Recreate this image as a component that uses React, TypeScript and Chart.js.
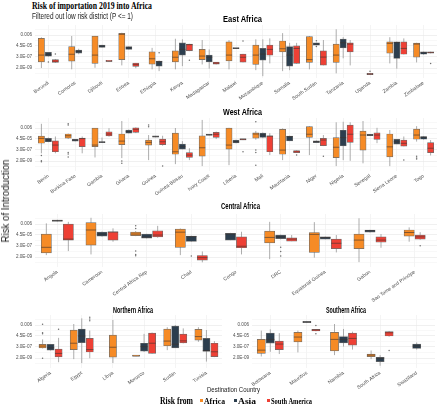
import React, { useEffect, useLayoutEffect, useRef } from "react";
import { Chart, registerables } from "chart.js";
Chart.register(...registerables);

// [min, q1, median, q3, max, outliers?]
type Box = [number, number, number, number, number, number[]?] | null;

const AFRICA_COLOR = "#F68B26";
const ASIA_COLOR = "#2C3E4E";
const SA_COLOR = "#EE4035";
const SANS = "'Liberation Sans', Arial, sans-serif";
const SERIF = "'Liberation Serif', 'Times New Roman', serif";

const tickValues = [6e-3, 4.5e-5, 3e-7, 2e-9];
const tickLabels = ["0.006", "4.5E-05", "3.0E-07", "2.0E-09"];
const minorTickValues = [6.9e-2, 5.2e-4, 3.7e-6, 2.45e-8, 1.6e-10];
const Y_MIN = 2.2e-11;
const Y_MAX = 0.55;

// ---------------- East Africa ----------------
const eastCountries = ["Burundi", "Comoros", "Djibouti", "Eritrea", "Ethiopia", "Kenya", "Madagascar", "Malawi", "Mozambique", "Somalia", "South Sudan", "Tanzania", "Uganda", "Zambia", "Zimbabwe"];
const eastAfrica: Box[] = [
  [2e-9, 3.3e-8, 6.9e-7, 1.3e-3, 2.1e-3],
  [1.1e-9, 4.5e-8, 1e-6, 3.2e-5, 3.8e-3],
  [2.2e-9, 1.6e-8, 6.9e-7, 3.6e-3, 3.9e-3],
  [6.5e-9, 9e-8, 8e-3, 1.3e-2, 1.7e-2],
  [1.1e-9, 1.1e-8, 1.3e-7, 3e-6, 1.8e-5],
  [1.1e-9, 3.3e-8, 2.6e-7, 4.6e-6, 1.1e-3],
  [1e-8, 9e-8, 4.4e-7, 9e-6, 6.2e-4],
  [1.1e-9, 5e-8, 6.9e-7, 2.7e-4, 6e-4],
  [7.6e-10, 1e-8, 6.9e-7, 6.4e-5, 8.5e-4],
  [4.9e-10, 3e-6, 1.2e-5, 4e-4, 1.4e-2],
  [1.1e-9, 2.5e-8, 9e-8, 2.8e-3, 3.8e-3],
  [1.8e-10, 2.5e-8, 6.9e-7, 1e-4, 8e-2],
  null,
  [1.6e-8, 1.6e-6, 1.4e-4, 2.7e-4, 2.2e-3],
  [2.5e-8, 2.6e-7, 1e-4, 1.5e-4, 1.8e-4],
];
const eastAsia: Box[] = [
  [3.5e-7, 4.4e-7, 8e-7, 2.3e-6, 2.5e-6, [2.9e-8]],
  [1e-6, 1.6e-6, 3.8e-6, 6.6e-6, 1.2e-5],
  [2e-5, 2.3e-5, 4.1e-5, 6.4e-5, 7e-5],
  [8e-6, 9e-6, 1.8e-5, 3.2e-5, 3.5e-5],
  [4.9e-10, 4.7e-9, 3.5e-8, 4.5e-8, 6e-8, [2e-6]],
  [4.7e-9, 6.9e-7, 9e-6, 1.8e-4, 8.5e-4],
  [1.5e-9, 3.3e-8, 2.6e-7, 6.9e-7, 9e-6],
  [1.1e-5, 1.2e-5, 1.4e-5, 1.6e-5, 1.7e-5],
  [5e-11, 7e-8, 1.1e-6, 1.4e-5, 8.5e-4],
  [7.6e-10, 4.7e-9, 6.9e-7, 3.2e-5, 1.7e-4],
  [5.5e-5, 6.4e-5, 1e-4, 1.7e-4, 1.9e-4, [4.5e-4, 3.2e-5]],
  [1.6e-7, 1.8e-5, 1.8e-4, 9.8e-4, 2.2e-3],
  null,
  [1.5e-9, 1.6e-7, 2e-4, 2.7e-4, 3e-4],
  [8e-7, 1e-6, 2e-6, 3e-6, 3.5e-6],
];
const eastSouthAmerica: Box[] = [
  [2e-8, 2.5e-8, 4.5e-8, 9e-8, 1.2e-7, [1.1e-6]],
  null,
  [3.6e-8, 3.8e-8, 4.2e-8, 4.6e-8, 4.8e-8],
  [1.8e-9, 4e-9, 9e-9, 1.8e-8, 2e-8],
  null,
  [4e-6, 5e-6, 7.5e-5, 1e-4, 1.1e-4, [7e-8]],
  [1e-8, 1.2e-8, 1.8e-8, 2.9e-8, 3e-8],
  [2.5e-8, 2.9e-8, 2.6e-7, 1.1e-6, 1.2e-6, [4e-4]],
  [1.6e-8, 6.9e-7, 9e-6, 6.4e-5, 1.3e-3],
  [1.4e-8, 1.6e-8, 1.4e-5, 4.6e-5, 1.7e-4],
  [6.5e-9, 7.4e-9, 2.8e-7, 4.6e-6, 6.2e-4],
  [6.5e-9, 3e-6, 1e-4, 1.8e-4, 6.2e-4],
  [9e-11, 1e-10, 1.3e-10, 1.8e-10, 2e-10, [4.9e-10]],
  [9e-7, 1e-6, 1.4e-5, 2.7e-4, 1.3e-3],
  [1.5e-6, 1.6e-6, 2.2e-6, 3e-6, 3.2e-6, [1.6e-8]],
];

// ---------------- West Africa ----------------
const westCountries = ["Benin", "Burkina Faso", "Gambia", "Ghana", "Guinea", "Guinea-Bissau", "Ivory Coast", "Liberia", "Mali", "Mauritania", "Niger", "Nigeria", "Senegal", "Sierra Leone", "Togo"];
const westAfrica: Box[] = [
  [6.5e-8, 6e-6, 5.5e-5, 1.6e-4, 4e-2, [2.5e-8, 2.2e-9, 1.5e-9]],
  [4e-5, 6.4e-5, 1.8e-4, 4e-4, 5e-4, [4e-2, 2.3e-2, 9e-8, 4.5e-8, 1.2e-8]],
  [1e-8, 1.3e-6, 2.7e-6, 5.5e-3, 6e-3],
  [7.4e-9, 3.3e-6, 1.6e-5, 4e-4, 1.4e-1, [2e-9, 7.6e-10]],
  [3e-9, 2.7e-6, 9e-6, 2.6e-5, 2.5e-4, [2.3e-2, 1.1e-2]],
  [4.9e-10, 4.2e-8, 1.3e-7, 6e-4, 6e-3],
  [2e-10, 1.8e-8, 8e-7, 1.8e-4, 2.3e-1],
  [3.1e-10, 4.4e-7, 2.7e-6, 5.7e-3, 6.5e-3],
  [3e-5, 6e-5, 4e-4, 6.8e-4, 1.6e-3, [1e-1, 2.8e-7, 9e-8, 3.1e-10]],
  [3e-9, 4.2e-8, 2.8e-7, 3.4e-3, 5e-3],
  [2.9e-8, 9e-5, 3.6e-4, 1.1e-2, 1.4e-2],
  [2e-10, 9e-9, 1e-6, 8e-5, 8e-2],
  [7e-10, 2.8e-7, 2.5e-4, 1.5e-3, 1.4e-1],
  [2e-10, 1.3e-8, 1.2e-6, 4e-4, 2.4e-3],
  [1.3e-5, 3.7e-5, 2.5e-4, 3.8e-3, 1.4e-2, [1.8e-8, 7.4e-9, 5e-9]],
];
const westAsia: Box[] = [
  [1e-5, 1.2e-5, 2.6e-5, 5.5e-5, 8e-5],
  [1.4e-5, 1.6e-5, 2.6e-5, 3.7e-5, 4e-5],
  [7e-6, 8e-6, 1e-5, 1.1e-5, 8e-5],
  [5e-4, 6e-4, 1.2e-3, 2.4e-3, 3e-3],
  [9e-5, 1e-4, 1.2e-4, 1.6e-4, 1.7e-4],
  [4e-7, 4.4e-7, 1.3e-6, 4e-6, 1.6e-5],
  [2e-4, 2.2e-4, 3e-4, 3.5e-4, 3.8e-4],
  [6e-6, 7e-6, 1.2e-5, 2.6e-5, 3e-5],
  [6e-5, 9e-5, 2.5e-4, 5.8e-4, 8e-4],
  [1.6e-5, 1.8e-5, 1.2e-4, 1.6e-4, 1.8e-4],
  [7e-6, 8e-6, 1.3e-5, 1.8e-5, 2.2e-5],
  [3e-9, 1.8e-6, 8e-5, 2.2e-3, 1e-1],
  [1.6e-4, 1.8e-4, 2.5e-4, 3.6e-4, 4e-4],
  [4e-6, 4.2e-6, 1.2e-5, 3.7e-5, 4e-5],
  [3e-5, 3.7e-5, 9e-5, 1.3e-4, 1.5e-4],
];
const westSouthAmerica: Box[] = [
  [6.5e-8, 1.3e-7, 2.7e-6, 1.8e-5, 1.3e-4],
  [6.5e-8, 1.3e-6, 5e-5, 6e-5, 1.3e-4],
  [1.2e-4, 1.7e-4, 4e-4, 1.1e-3, 5.5e-3],
  [6e-4, 8e-4, 3.4e-3, 6.5e-3, 8e-3],
  [2e-6, 3.3e-6, 1.2e-5, 4e-5, 1.8e-4, [2e-10]],
  [3e-9, 1e-8, 2.9e-8, 9e-8, 6.4e-7],
  [4e-5, 9e-5, 3.6e-4, 8.5e-4, 1.2e-3],
  [2.6e-5, 2.8e-5, 3.2e-5, 3.7e-5, 4e-5, [1.3e-7]],
  [2.9e-8, 1.3e-7, 1.5e-4, 1.8e-4, 5.8e-4],
  [8e-8, 9e-8, 1.8e-7, 2.1e-7, 2.3e-7, [2.9e-8]],
  [1.7e-6, 2e-6, 2.6e-5, 5.5e-5, 2.5e-4, [1.8e-8]],
  [2.2e-9, 9e-6, 3.6e-4, 2.3e-2, 8e-2],
  [6.4e-6, 3.6e-5, 2.5e-4, 7e-4, 6.5e-3],
  [1.5e-6, 1.7e-6, 6e-6, 2.6e-5, 1.3e-4, [3e-9]],
  [2.5e-8, 9e-8, 6.4e-7, 8e-6, 2.6e-5],
];

// ---------------- Central Africa ----------------
const centralCountries = ["Angola", "Cameroon", "Central Africa Rep", "Chad", "Congo", "DRC", "Equatorial Guinea", "Gabon", "Sao Tome and Principe"];
const centralAfrica: Box[] = [
  [4.7e-9, 1.3e-8, 1.6e-7, 6.4e-5, 8e-3],
  [6.5e-9, 4.4e-7, 4e-4, 1.1e-2, 1e-1],
  [2.5e-5, 3.2e-5, 6.4e-5, 1.5e-4, 2.5e-4, [2.6e-3, 8e-4, 2.9e-8, 6.5e-9, 3.5e-9]],
  [4.7e-9, 1.6e-7, 1.5e-4, 6e-4, 8e-4],
  null,
  [7.6e-10, 1.2e-6, 1.4e-5, 2.5e-4, 1.6e-2],
  [1.5e-9, 1.6e-8, 5.5e-5, 1.3e-4, 1.4e-2],
  [2e-10, 9e-8, 4.2e-6, 6.4e-5, 8e-2],
  [2e-6, 2.6e-5, 1.3e-4, 4e-4, 1.3e-3],
];
const centralAsia: Box[] = [
  [1.8e-2, 2e-2, 3e-2, 3.5e-2, 4e-2],
  [2e-5, 2.6e-5, 6e-5, 1.5e-4, 2e-4],
  [9e-6, 1e-5, 1.6e-5, 6e-5, 7e-5],
  [2e-6, 2.3e-6, 2e-5, 2.6e-5, 3e-5, [3e-9]],
  [4e-6, 4.2e-6, 6.4e-5, 9e-5, 1.1e-4],
  [6e-6, 8e-6, 1.8e-5, 4.1e-5, 5e-5, [1.6e-7, 2.5e-8, 3e-9]],
  [6e-6, 6.6e-6, 1.4e-5, 1.8e-5, 2e-5],
  [1.3e-4, 1.5e-4, 2.8e-4, 4e-4, 4.5e-4],
  null,
];
const centralSouthAmerica: Box[] = [
  [2.9e-8, 4.2e-6, 6.6e-6, 5.5e-3, 1.6e-2],
  [2e-6, 4.2e-6, 1.6e-4, 1.8e-4, 8.5e-4],
  [1.2e-5, 1.8e-5, 4.1e-5, 2.8e-4, 2.6e-3],
  [1.8e-10, 4.9e-10, 1.5e-9, 4e-9, 2.5e-8],
  [6.5e-9, 1.3e-7, 2.6e-7, 1.8e-5, 1.8e-4],
  [2.5e-6, 2.7e-6, 6.6e-6, 1.2e-5, 4.1e-5],
  [1.6e-8, 9e-8, 1e-6, 6.6e-6, 4.1e-5],
  [1.3e-7, 1.6e-6, 4.2e-6, 1.8e-5, 6.4e-5],
  [5e-6, 6.6e-6, 1.8e-5, 4.1e-5, 1.5e-4, [3.2e-7]],
];

// ---------------- Northern Africa ----------------
const northCountries = ["Algeria", "Egypt", "Libya", "Morocco", "Sudan", "Tunisia"];
const northAfrica: Box[] = [
  [1.5e-7, 1.9e-7, 4.4e-7, 1e-6, 9e-6, [8e-3, 1.8e-4, 1.1e-4, 1.8e-9]],
  [1.2e-9, 9e-8, 1.6e-6, 6.2e-4, 9.4e-3],
  [2e-10, 3e-9, 2.6e-7, 6.4e-5, 5.8e-2],
  [4.6e-9, 4.6e-9, 5e-9, 5.4e-9, 5.4e-9],
  [7e-8, 5e-7, 4.2e-6, 9.8e-4, 2.2e-3],
  [3e-6, 6.6e-6, 3.2e-5, 8.5e-4, 2.2e-3],
];
const northAsia: Box[] = [
  [6e-8, 7e-8, 2.1e-7, 1e-6, 1.1e-6],
  [2e-10, 2e-6, 4.1e-5, 9.8e-4, 1.2e-1],
  null,
  [3e-8, 4.5e-8, 3.4e-7, 1.6e-6, 1.1e-4],
  [1.8e-7, 2e-7, 1e-6, 3.8e-3, 6e-3],
  [4e-10, 4e-8, 6e-8, 1.4e-5, 6.2e-4],
];
const northSouthAmerica: Box[] = [
  [3e-10, 3.4e-9, 1.6e-8, 1.1e-7, 1.8e-5, [8.5e-4]],
  [1.8e-9, 3e-8, 9e-8, 1.4e-5, 5e-4, [2e-1, 9e-2, 4e-2]],
  null,
  [1.4e-8, 1.6e-8, 1.6e-6, 1.5e-4, 2e-4],
  [1.5e-6, 1.9e-6, 4.6e-6, 1e-4, 1.3e-3],
  [3e-9, 3.8e-9, 3.3e-8, 1.6e-6, 4e-6],
];

// ---------------- Southern Africa ----------------
const southCountries = ["Botswana", "Mauritius", "Namibia", "South Africa", "Swaziland"];
const southAfrica: Box[] = [
  [4e-9, 1.6e-8, 7e-8, 9e-6, 4.7e-4],
  [2.5e-8, 3e-6, 2.6e-5, 2.2e-4, 4.7e-4],
  [7.4e-9, 5e-8, 9e-6, 2.2e-4, 9.4e-3],
  [1.2e-9, 3.6e-9, 7.4e-9, 1.2e-8, 6e-8],
  null,
];
const southAsia: Box[] = [
  [3.3e-8, 1.6e-6, 9e-6, 1.5e-4, 8.5e-4],
  [1.6e-2, 1.8e-2, 2.3e-2, 2.6e-2, 3e-2],
  [3.5e-7, 1.9e-6, 9e-6, 3.2e-5, 1e-3],
  [6e-11, 4e-10, 1.8e-9, 2.8e-9, 7.4e-9],
  [9e-8, 1.6e-7, 4.4e-7, 1.1e-6, 2.2e-6],
];
const southSouthAmerica: Box[] = [
  [1.2e-8, 9e-8, 1.1e-6, 4.2e-6, 1.5e-4],
  [3.5e-4, 4e-4, 6.2e-4, 8.5e-4, 9e-4, [4.8e-3, 1.1e-4]],
  [9e-8, 6.9e-7, 1.4e-5, 1.5e-4, 3e-4],
  [3e-5, 4.1e-5, 1.8e-4, 3e-4, 4e-4, [6e-8]],
  null,
];

// ---------------- box plot extras plugin ----------------
function forEachBox(chart: any, fn: (el: any, s: NonNullable<Box>) => void) {
  chart.data.datasets.forEach((ds: any, i: number) => {
    const meta = chart.getDatasetMeta(i);
    ds.stats.forEach((s: Box, j: number) => {
      if (!s) return;
      const el = meta.data[j];
      if (!el || !isFinite(el.x)) return;
      fn(el, s);
    });
  });
}

const boxPlugin = {
  id: "boxExtras",
  beforeDatasetsDraw(chart: any) {
    const ctx = chart.ctx;
    const y = chart.scales.y;
    const a = chart.chartArea;
    ctx.save();
    ctx.beginPath();
    ctx.rect(a.left, a.top, a.right - a.left, a.bottom - a.top);
    ctx.clip();
    forEachBox(chart, (el, s) => {
      ctx.strokeStyle = "#8a8a8a";
      ctx.lineWidth = 0.7;
      ctx.beginPath();
      ctx.moveTo(el.x, y.getPixelForValue(s[0]));
      ctx.lineTo(el.x, y.getPixelForValue(s[4]));
      ctx.stroke();
    });
    ctx.restore();
  },
  afterDatasetsDraw(chart: any) {
    const ctx = chart.ctx;
    const y = chart.scales.y;
    const a = chart.chartArea;
    ctx.save();
    ctx.beginPath();
    ctx.rect(a.left, a.top, a.right - a.left, a.bottom - a.top);
    ctx.clip();
    forEachBox(chart, (el, s) => {
      const half = el.width / 2;
      const my = y.getPixelForValue(s[2]);
      ctx.strokeStyle = "rgba(60,50,45,0.75)";
      ctx.lineWidth = 0.8;
      ctx.beginPath();
      ctx.moveTo(el.x - half, my);
      ctx.lineTo(el.x + half, my);
      ctx.stroke();
      const outs = s[5] || [];
      ctx.fillStyle = "#6f6f6f";
      outs.forEach((v) => {
        ctx.beginPath();
        ctx.arc(el.x, y.getPixelForValue(v), 0.75, 0, Math.PI * 2);
        ctx.fill();
      });
    });
    ctx.restore();
  },
};

function majorIndex(v: number) {
  return tickValues.findIndex((t) => Math.abs(Math.log10(t) - Math.log10(v)) < 1e-6);
}

type PanelProps = {
  countries: string[];
  africa: Box[];
  asia: Box[];
  southAmerica: Box[];
  left: number;
  top: number;
  width: number;
  height: number;
  xAxisHeight: number;
  padLeft: number;
  padRight: number;
  barWidth: number;
};

function Panel(p: PanelProps) {
  const ref = useRef<HTMLCanvasElement>(null);
  useEffect(() => {
    const mk = (label: string, boxes: Box[], color: string) => ({
      label,
      data: boxes.map((b) => (b ? [b[1], b[3]] : null)),
      stats: boxes,
      backgroundColor: color,
      borderColor: "#6b6b6b",
      borderWidth: 0.7,
      borderSkipped: false,
      barThickness: p.barWidth,
      maxBarThickness: p.barWidth - 0.8,
      minBarLength: 1.2,
      skipNull: true,
      grouped: true,
    });
    const chart = new Chart(ref.current as HTMLCanvasElement, {
      type: "bar",
      data: {
        labels: p.countries,
        datasets: [
          mk("Africa", p.africa, AFRICA_COLOR),
          mk("Asia", p.asia, ASIA_COLOR),
          mk("South America", p.southAmerica, SA_COLOR),
        ] as any,
      },
      options: {
        animation: false,
        responsive: false,
        devicePixelRatio: 1,
        layout: { padding: { top: 5, left: p.padLeft, right: p.padRight, bottom: 0 } },
        plugins: { legend: { display: false }, tooltip: { enabled: false }, title: { display: false } },
        scales: {
          x: {
            type: "category",
            offset: true,
            grid: { offset: false, color: "#ececec", lineWidth: 0.6, drawTicks: false },
            border: { display: false },
            ticks: {
              autoSkip: false,
              minRotation: 35,
              maxRotation: 35,
              padding: 2,
              color: "#4d4d4d",
              font: { size: 5, family: SANS },
            },
            afterFit: (s: any) => {
              s.height = p.xAxisHeight;
              s.paddingLeft = 0;
              s.paddingRight = 0;
            },
          },
          y: {
            type: "logarithmic",
            min: Y_MIN,
            max: Y_MAX,
            bounds: "data",
            grid: {
              drawTicks: false,
              lineWidth: 0.6,
              color: (c: any) => (c.tick && majorIndex(c.tick.value) >= 0 ? "#e6e6e6" : "#f3f3f3"),
            },
            border: { display: false },
            ticks: {
              autoSkip: false,
              padding: 3,
              color: "#4d4d4d",
              font: { size: 4.6, family: SANS },
              callback: (v: any) => {
                const idx = majorIndex(Number(v));
                return idx >= 0 ? tickLabels[idx] : "";
              },
            },
            afterBuildTicks: (s: any) => {
              s.ticks = [...minorTickValues, ...tickValues]
                .sort((a, b) => a - b)
                .map((v) => ({ value: v }));
            },
            afterFit: (s: any) => {
              s.width = 30;
              s.paddingTop = 0;
              s.paddingBottom = 0;
            },
          },
        } as any,
      },
      plugins: [boxPlugin as any],
    });
    return () => chart.destroy();
  }, []);
  return (
    <canvas
      ref={ref}
      width={p.width}
      height={p.height}
      style={{ position: "absolute", left: p.left, top: p.top, width: p.width, height: p.height }}
    />
  );
}

type TextProps = {
  text: string;
  x: number;
  y: number;
  w: number;
  size: number;
  weight?: string | number;
  family: string;
  color?: string;
};

function FitText({ text, x, y, w, size, weight = "normal", family, color = "#000" }: TextProps) {
  const ref = useRef<HTMLDivElement>(null);
  useLayoutEffect(() => {
    const el = ref.current!;
    el.style.transform = "translateY(-50%)";
    const nat = el.getBoundingClientRect().width;
    if (nat > 0) el.style.transform = `translateY(-50%) scaleX(${w / nat})`;
  }, []);
  return (
    <div
      ref={ref}
      style={{
        position: "absolute",
        left: x,
        top: y,
        fontSize: size,
        fontWeight: weight as any,
        fontFamily: family,
        color,
        whiteSpace: "nowrap",
        lineHeight: 1,
        transformOrigin: "left center",
      }}
    >
      {text}
    </div>
  );
}

function VerticalText({ text, cx, cy, len, size, family, color = "#000" }: any) {
  const ref = useRef<HTMLDivElement>(null);
  useLayoutEffect(() => {
    const el = ref.current!;
    el.style.transform = "none";
    const nat = el.getBoundingClientRect().width;
    el.style.transform = `translate(-50%, -50%) rotate(-90deg) scaleX(${len / nat})`;
  }, []);
  return (
    <div
      ref={ref}
      style={{
        position: "absolute",
        left: cx,
        top: cy,
        fontSize: size,
        fontFamily: family,
        color,
        whiteSpace: "nowrap",
        lineHeight: 1,
        transformOrigin: "center center",
      }}
    >
      {text}
    </div>
  );
}

function Swatch({ x, y, color }: { x: number; y: number; color: string }) {
  return <div style={{ position: "absolute", left: x, top: y, width: 3, height: 3, background: color }} />;
}

export default function App() {
  return (
    <div style={{ position: "absolute", left: 0, top: 0, width: 440, height: 405, background: "#fff", overflow: "hidden" }}>
      <Panel countries={eastCountries} africa={eastAfrica} asia={eastAsia} southAmerica={eastSouthAmerica}
        left={0} top={20} width={440} height={82} xAxisHeight={24} padLeft={5} padRight={3} barWidth={7} />
      <Panel countries={westCountries} africa={westAfrica} asia={westAsia} southAmerica={westSouthAmerica}
        left={0} top={113} width={440} height={82} xAxisHeight={24} padLeft={5} padRight={3} barWidth={7} />
      <Panel countries={centralCountries} africa={centralAfrica} asia={centralAsia} southAmerica={centralSouthAmerica}
        left={0} top={209} width={440} height={94} xAxisHeight={36} padLeft={5} padRight={3} barWidth={11} />
      <Panel countries={northCountries} africa={northAfrica} asia={northAsia} southAmerica={northSouthAmerica}
        left={0} top={310} width={224} height={80} xAxisHeight={22} padLeft={5} padRight={2} barWidth={8} />
      <Panel countries={southCountries} africa={southAfrica} asia={southAsia} southAmerica={southSouthAmerica}
        left={222} top={310} width={218} height={80} xAxisHeight={22} padLeft={0} padRight={5} barWidth={9} />

      <FitText text="Risk of importation 2019 into Africa" x={32} y={6} w={120} size={10} weight="bold" family={SERIF} />
      <FitText text="Filtered out low risk district (P <= 1)" x={32} y={15.5} w={101} size={8.5} family={SANS} color="#222" />

      <FitText text="East Africa" x={223} y={19} w={39} size={8.5} weight="bold" family={SANS} />
      <FitText text="West Africa" x={223} y={112} w={39} size={8.5} weight="bold" family={SANS} />
      <FitText text="Central Africa" x={221} y={206} w={39} size={8.5} weight="bold" family={SANS} />
      <FitText text="Northern Africa" x={113} y={310} w={40} size={8.5} weight="bold" family={SANS} />
      <FitText text="Southern Africa" x={326} y={310} w={40} size={8.5} weight="bold" family={SANS} />

      <VerticalText text="Risk of Introduction" cx={5.5} cy={201} len={83} size={10} family={SANS} color="#222" />
      <FitText text="Destination Country" x={207} y={390} w={53} size={7.5} family={SANS} color="#222" />

      <FitText text="Risk from" x={160} y={400.5} w={33} size={10} weight="bold" family={SERIF} />
      <Swatch x={199.5} y={399} color={AFRICA_COLOR} />
      <FitText text="Africa" x={204} y={400.5} w={21} size={9} weight="bold" family={SERIF} />
      <Swatch x={234} y={399} color={ASIA_COLOR} />
      <FitText text="Asia" x={238} y={400.5} w={18} size={9} weight="bold" family={SERIF} />
      <Swatch x={267} y={399} color={SA_COLOR} />
      <FitText text="South America" x={271} y={400.5} w={41} size={9} weight="bold" family={SERIF} />
    </div>
  );
}
